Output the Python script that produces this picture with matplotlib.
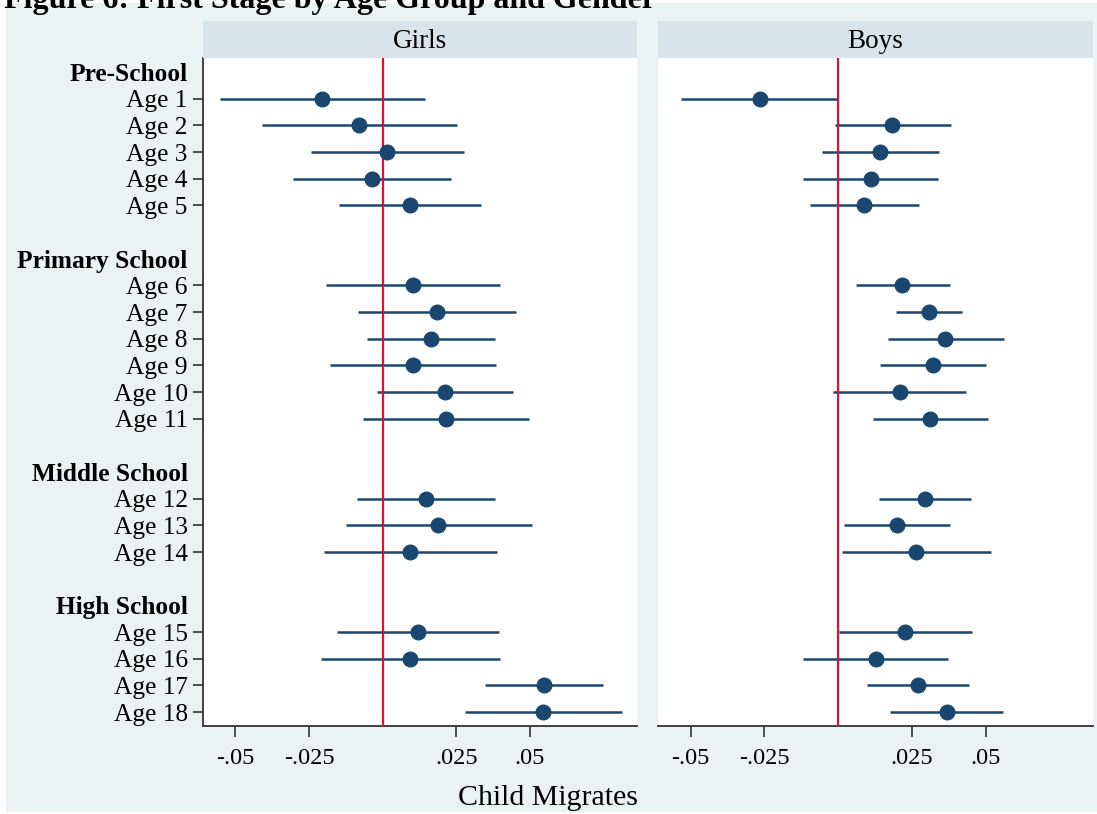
import matplotlib
matplotlib.use("Agg")
import matplotlib.pyplot as plt
from matplotlib.patches import Rectangle
import numpy as np

# ---------------- data ----------------
group_names = ["Pre-School", "Primary School", "Middle School", "High School"]
group_ages = [[1, 2, 3, 4, 5], [6, 7, 8, 9, 10, 11], [12, 13, 14], [15, 16, 17, 18]]

girls_est = [-0.0206, -0.0079, 0.0014, -0.0037, 0.0092,
             0.0103, 0.0183, 0.0163, 0.0102, 0.0210, 0.0214,
             0.0147, 0.0189, 0.0094,
             0.0119, 0.0092, 0.0548, 0.0545]
girls_lo = [-0.0553, -0.0411, -0.0244, -0.0306, -0.0148,
            -0.0191, -0.0083, -0.0054, -0.0180, -0.0021, -0.0068,
            -0.0087, -0.0126, -0.0199,
            -0.0156, -0.0210, 0.0348, 0.0280]
girls_hi = [0.0142, 0.0253, 0.0276, 0.0232, 0.0333,
            0.0398, 0.0451, 0.0383, 0.0384, 0.0443, 0.0496,
            0.0380, 0.0507, 0.0389,
            0.0396, 0.0398, 0.0748, 0.0812]

boys_est = [-0.0266, 0.0184, 0.0143, 0.0110, 0.0088,
            0.0218, 0.0307, 0.0363, 0.0321, 0.0208, 0.0312,
            0.0293, 0.0199, 0.0264,
            0.0227, 0.0127, 0.0269, 0.0369]
boys_lo = [-0.0531, -0.0012, -0.0054, -0.0119, -0.0096,
           0.0061, 0.0197, 0.0169, 0.0141, -0.0017, 0.0118,
           0.0137, 0.0019, 0.0012,
           0.0003, -0.0119, 0.0097, 0.0176]
boys_hi = [0.0000, 0.0382, 0.0342, 0.0339, 0.0274,
           0.0378, 0.0419, 0.0561, 0.0501, 0.0433, 0.0509,
           0.0449, 0.0380, 0.0517,
           0.0452, 0.0373, 0.0445, 0.0560]

panel_titles = ["Girls", "Boys"]
xticks = [-0.05, -0.025, 0.025, 0.05]
xtick_labels = ["-.05", "-.025", ".025", ".05"]
title = "Figure 6: First Stage by Age Group and Gender"
xlabel = "Child Migrates"

# ---------------- layout rows ----------------
age_rows = []
tick_pos, tick_lab, is_header = [], [], []
r = 0
for g, ages in zip(group_names, group_ages):
    tick_pos.append(r); tick_lab.append(g); is_header.append(True)
    r += 1
    for a in ages:
        tick_pos.append(r); tick_lab.append(f"Age {a}"); is_header.append(False)
        age_rows.append(r)
        r += 1
    r += 1  # blank row
age_rows = np.array(age_rows)

# ---------------- style ----------------
W, H = 1097, 814
BG = "#EAF2F3"
STRIP = "#D7E4E9"
NAVY = "#1A476F"
RED = "#D2143A"
AXC = "#333333"
plt.rcParams["font.family"] = ["Liberation Serif", "DejaVu Serif"]

fig = plt.figure(figsize=(W / 100, H / 100), dpi=100)
fig.patch.set_facecolor("white")
fig.patches.append(Rectangle((6 / W, 2 / H), 1 - 6 / W, (811 - 2) / H,
                             transform=fig.transFigure, facecolor=BG,
                             edgecolor="none", zorder=-10))

ax_bottom = 1 - 726 / H
ax_height = (726 - 58) / H
lefts = [203 / W, 658 / W]
widths = [434 / W, 435 / W]
xlim = (-0.06103, 0.08636)

data = [(girls_est, girls_lo, girls_hi), (boys_est, boys_lo, boys_hi)]

for i in range(2):
    ax = fig.add_axes([lefts[i], ax_bottom, widths[i], ax_height])
    ax.set_facecolor("white")
    est, lo, hi = (np.array(v) for v in data[i])
    ax.hlines(age_rows, lo, hi, color=NAVY, lw=1.8, zorder=2)
    ax.axvline(0, color=RED, lw=1.6, zorder=3)
    ax.plot(est, age_rows, "o", color=NAVY, ms=10.5, mec=NAVY, zorder=4,
            linestyle="none")
    ax.set_xlim(*xlim)
    ax.set_ylim(24.52, -0.525)
    for s in ["top", "right"]:
        ax.spines[s].set_visible(False)
    ax.spines["bottom"].set_color(AXC)
    ax.spines["bottom"].set_linewidth(1.3)
    ax.set_xticks(xticks)
    ax.set_xticklabels(xtick_labels, fontsize=17.5)
    ax.tick_params(axis="x", length=8, width=1.2, color=AXC, pad=8)
    if i == 0:
        ax.spines["left"].set_color(AXC)
        ax.spines["left"].set_linewidth(1.3)
        ax.set_yticks(tick_pos)
        ax.set_yticklabels(tick_lab, fontsize=18.3)
        ax.tick_params(axis="y", length=7, width=1.2, color=AXC, pad=4)
        for t, lab, h in zip(ax.yaxis.get_major_ticks(), ax.get_yticklabels(), is_header):
            if h:
                t.tick1line.set_visible(False)
                lab.set_fontweight("bold")
    else:
        ax.spines["left"].set_visible(False)
        ax.set_yticks([])

    # strip header
    sax = fig.add_axes([lefts[i], 1 - 58 / H, widths[i], (58 - 21) / H])
    sax.set_facecolor(STRIP)
    for s in sax.spines.values():
        s.set_visible(False)
    sax.set_xticks([]); sax.set_yticks([])
    sax.text(0.5, 0.45, panel_titles[i], ha="center", va="center",
             fontsize=19.5, transform=sax.transAxes)

fig.text(547.5 / W, 1 - 798 / H, xlabel, ha="center", va="center", fontsize=21.5)
fig.text(4 / W, 1 - 8 / H, title, ha="left", va="baseline", fontsize=23,
         fontweight="bold")

fig.savefig("out.png", dpi=100, facecolor=fig.get_facecolor())
